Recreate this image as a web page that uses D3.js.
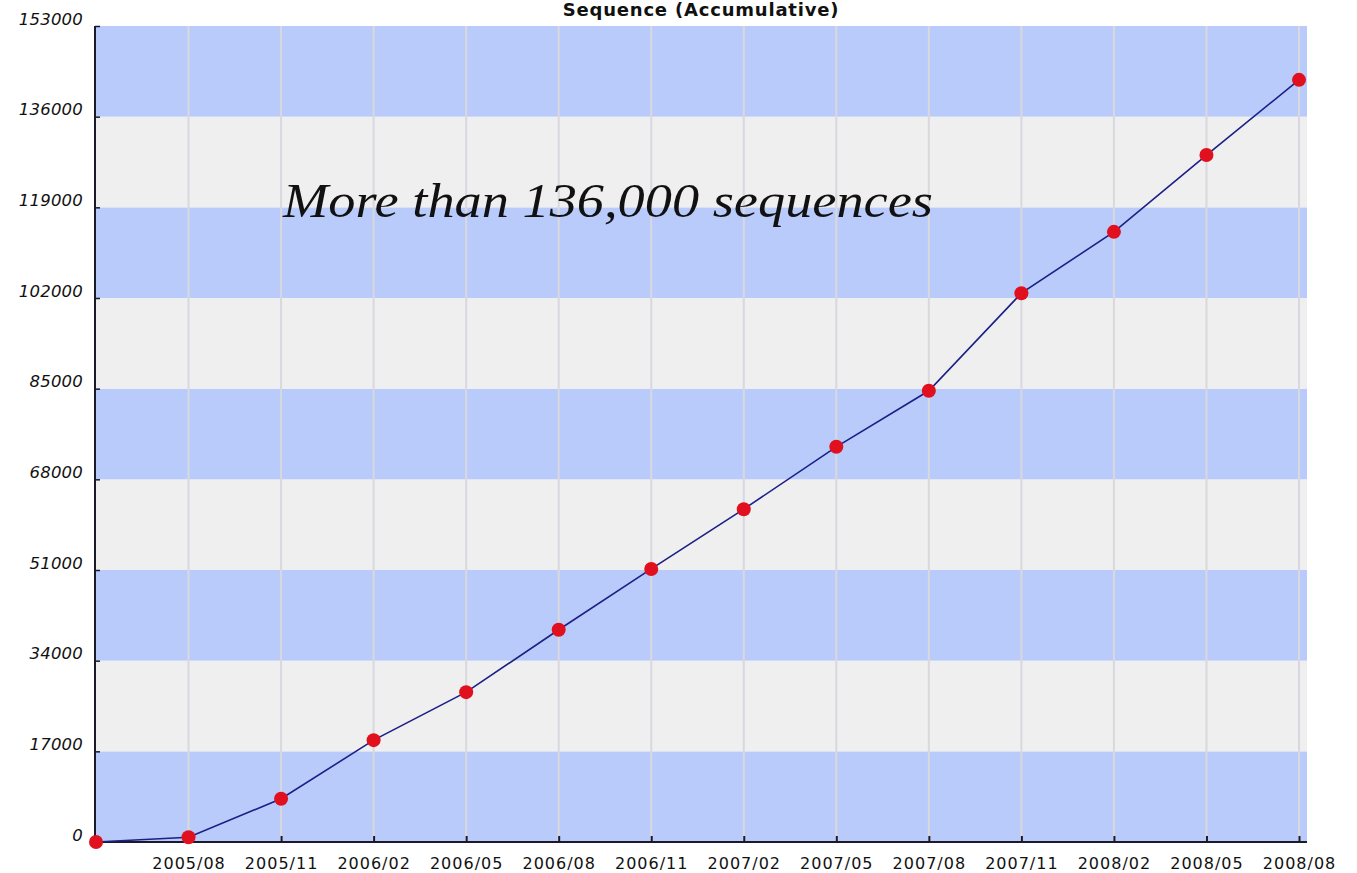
<!DOCTYPE html>
<html>
<head>
<meta charset="utf-8">
<script src="https://cdn.jsdelivr.net/npm/d3@7/dist/d3.min.js"></script>
<style>
  html, body { margin: 0; padding: 0; background: #ffffff; }
  svg { display: block; }
</style>
</head>
<body>
<svg id="chart" width="1357" height="873"></svg>
<script>
// Quarterly snapshots of the accumulated sequence count
const months = ["2005/05", "2005/08", "2005/11", "2006/02", "2006/05", "2006/08", "2006/11",
                "2007/02", "2007/05", "2007/08", "2007/11", "2008/02", "2008/05", "2008/08"];
const sequences = [0, 900, 8100, 19100, 28100, 39800, 51200,
                   62400, 74100, 84600, 102900, 114400, 128800, 142900];
const yTicks = [0, 17000, 34000, 51000, 68000, 85000, 102000, 119000, 136000, 153000];
const title = "Sequence (Accumulative)";
const note = "More than 136,000 sequences";

const svg = d3.select("#chart");

const plot = { left: 95, right: 1307, top: 26, bottom: 842 };

const x = d3.scaleLinear().domain([0, months.length - 1]).range([96, 1299]);
const y = d3.scaleLinear().domain([0, 153000]).range([plot.bottom, plot.top]);

// alternating horizontal bands between y ticks
const bands = d3.pairs(yTicks);
svg.append("g").selectAll("rect")
  .data(bands)
  .join("rect")
  .attr("x", plot.left)
  .attr("width", plot.right - plot.left)
  .attr("y", d => y(d[1]))
  .attr("height", d => y(d[0]) - y(d[1]))
  .attr("fill", (d, i) => i % 2 === 0 ? "#b9cbfa" : "#efefef");

// vertical grid lines at each month tick
svg.append("g").selectAll("line")
  .data(d3.range(1, months.length))
  .join("line")
  .attr("x1", d => x(d)).attr("x2", d => x(d))
  .attr("y1", plot.top).attr("y2", plot.bottom)
  .attr("stroke", "#d8d8de")
  .attr("stroke-width", 2);

// axes
const xAxis = d3.axisBottom(x)
  .tickValues(d3.range(1, months.length))
  .tickFormat(i => months[i])
  .tickSizeInner(-6)
  .tickSizeOuter(0)
  .tickPadding(16);

const gx = svg.append("g")
  .attr("transform", `translate(0,${plot.bottom})`)
  .call(xAxis);
gx.select(".domain").remove();
gx.selectAll(".tick line").attr("stroke", "#1a1a2a").attr("stroke-width", 2);
gx.selectAll(".tick text")
  .attr("fill", "#111")
  .style("font-family", "'DejaVu Sans', sans-serif")
  .style("font-size", "16px")
  .style("letter-spacing", "1px");

const yAxis = d3.axisLeft(y)
  .tickValues(yTicks)
  .tickFormat(d3.format("d"))
  .tickSizeInner(-5)
  .tickSizeOuter(0)
  .tickPadding(12);

const gy = svg.append("g")
  .attr("transform", `translate(${plot.left},0)`)
  .call(yAxis);
gy.select(".domain").remove();
gy.selectAll(".tick line").attr("stroke", "#1a1a2a").attr("stroke-width", 1.5);
gy.selectAll(".tick text")
  .attr("fill", "#111")
  .attr("dy", "-2px")
  .style("font-family", "'DejaVu Sans', sans-serif")
  .style("font-style", "italic")
  .style("font-size", "16.5px")
  .style("letter-spacing", "0.2px");

// axis lines
svg.append("line")
  .attr("x1", plot.left).attr("x2", plot.left)
  .attr("y1", plot.top).attr("y2", plot.bottom)
  .attr("stroke", "#1a1a2a").attr("stroke-width", 2);
svg.append("line")
  .attr("x1", plot.left).attr("x2", plot.right)
  .attr("y1", plot.bottom).attr("y2", plot.bottom)
  .attr("stroke", "#1a1a2a").attr("stroke-width", 2);

// series line and markers
const line = d3.line()
  .x((d, i) => x(i))
  .y(d => y(d));

svg.append("path")
  .datum(sequences)
  .attr("d", line)
  .attr("fill", "none")
  .attr("stroke", "#1c1f86")
  .attr("stroke-width", 1.6);

svg.append("g").selectAll("circle")
  .data(sequences)
  .join("circle")
  .attr("cx", (d, i) => x(i))
  .attr("cy", d => y(d))
  .attr("r", 7)
  .attr("fill", "#e0101e");

// title
svg.append("text")
  .attr("x", (plot.left + plot.right) / 2)
  .attr("y", 16)
  .attr("text-anchor", "middle")
  .attr("fill", "#111")
  .style("font-family", "'DejaVu Sans', sans-serif")
  .style("font-weight", "bold")
  .style("font-size", "18px")
  .style("letter-spacing", "0.8px")
  .text(title);

// annotation
svg.append("text")
  .attr("x", 283)
  .attr("y", 217)
  .attr("fill", "#111")
  .attr("textLength", 650)
  .attr("lengthAdjust", "spacingAndGlyphs")
  .style("font-family", "'Liberation Serif', serif")
  .style("font-style", "italic")
  .style("font-size", "48px")
  .text(note);
</script>
</body>
</html>
